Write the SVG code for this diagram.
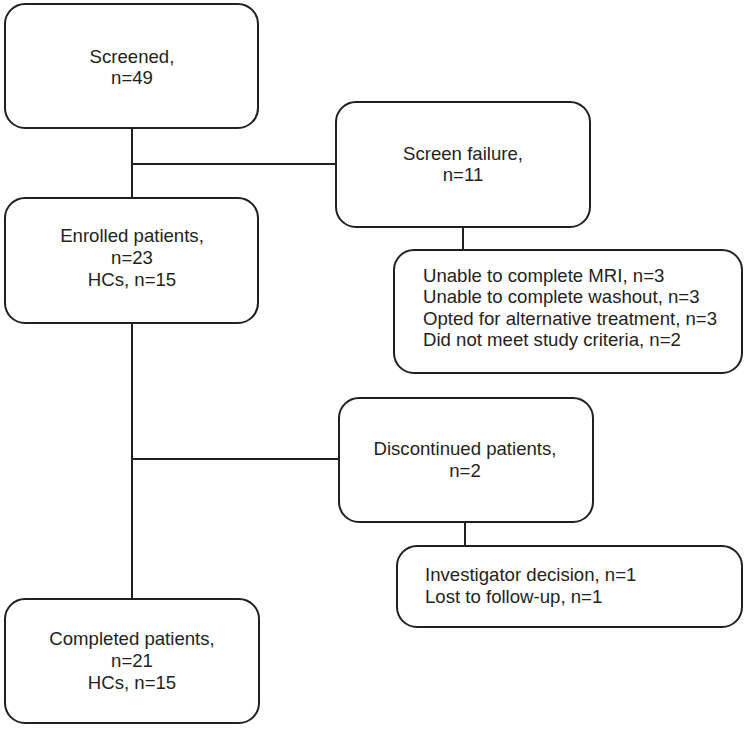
<svg xmlns="http://www.w3.org/2000/svg" width="747" height="729" viewBox="0 0 747 729">
<style>
.box{fill:#fff;stroke:#231f20;stroke-width:2}
.ln{stroke:#231f20;stroke-width:2;fill:none}
text{font-family:"Liberation Sans",Arial,sans-serif;font-size:18.6px;fill:#231f20}
.c{text-anchor:middle}
</style>
<rect width="747" height="729" fill="#fff"/>
<g id="connectors">
<path class="ln" d="M132 128V198M132 164H336M463 227V250M132 323V599M132 459H339M465 522V546"/>
</g>
<g id="screened">
<rect class="box" x="5" y="4" width="253" height="124" rx="20"/>
<text class="c" x="132" y="63">Screened,</text>
<text class="c" x="132" y="84">n=49</text>
</g>
<g id="screen-failure">
<rect class="box" x="336" y="102" width="254" height="125" rx="20"/>
<text class="c" x="463" y="160">Screen failure,</text>
<text class="c" x="463" y="181">n=11</text>
</g>
<g id="enrolled">
<rect class="box" x="5" y="198" width="253" height="125" rx="20"/>
<text class="c" x="132" y="242">Enrolled patients,</text>
<text class="c" x="132" y="264">n=23</text>
<text class="c" x="132" y="286">HCs, n=15</text>
</g>
<g id="sf-reasons">
<rect class="box" x="394" y="250" width="348" height="123" rx="20"/>
<text x="423" y="282">Unable to complete MRI, n=3</text>
<text x="423" y="303">Unable to complete washout, n=3</text>
<text x="423" y="325">Opted for alternative treatment, n=3</text>
<text x="423" y="346">Did not meet study criteria, n=2</text>
</g>
<g id="discontinued">
<rect class="box" x="339" y="398" width="254" height="124" rx="20"/>
<text class="c" x="465" y="455">Discontinued patients,</text>
<text class="c" x="465" y="477">n=2</text>
</g>
<g id="disc-reasons">
<rect class="box" x="397" y="546" width="345" height="81" rx="20"/>
<text x="425" y="581">Investigator decision, n=1</text>
<text x="425" y="603">Lost to follow-up, n=1</text>
</g>
<g id="completed">
<rect class="box" x="5" y="599" width="254" height="124" rx="20"/>
<text class="c" x="132" y="645">Completed patients,</text>
<text class="c" x="132" y="667">n=21</text>
<text class="c" x="132" y="689">HCs, n=15</text>
</g>
</svg>
